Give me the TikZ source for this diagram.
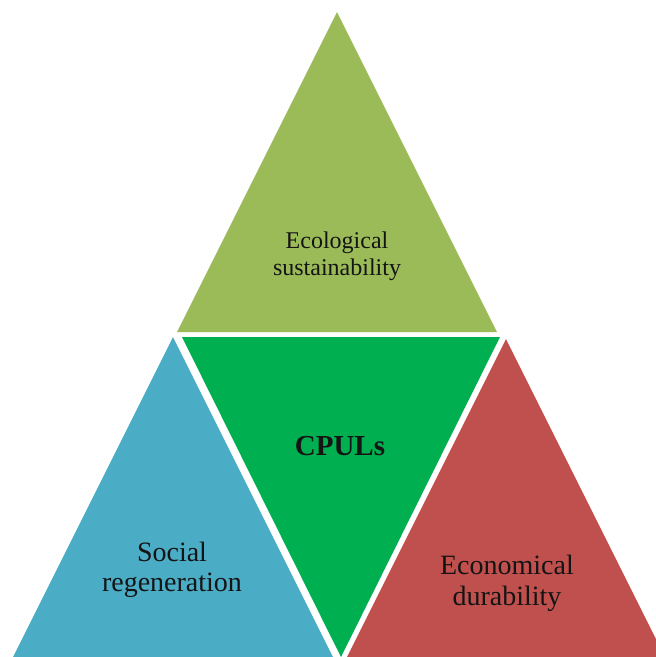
\documentclass[tikz,border=0pt]{standalone}
\usepackage{fontspec}
\setmainfont{Liberation Serif}
\definecolor{olivegreen}{HTML}{9BBB59}
\definecolor{midgreen}{HTML}{00B050}
\definecolor{tealblue}{HTML}{4BACC6}
\definecolor{brickred}{HTML}{C0504D}
\definecolor{txt}{HTML}{141414}
\tikzset{
  lbl/.style={inner sep=0pt, align=center, text=txt},
}
\begin{document}
\begin{tikzpicture}[x=1pt,y=-1pt]
\useasboundingbox (0,0) rectangle (656,657);
\clip (0,0) rectangle (656,657);
% triangles
\fill[olivegreen] (337,12) -- (177,332) -- (497,332) -- cycle;
\fill[midgreen] (182,337) -- (500,337) -- (341,657) -- cycle;
\fill[tealblue] (173,337) -- (13,657) -- (333,657) -- cycle;
\fill[brickred] (506,339) -- (347,657) -- (665,657) -- cycle;
% labels
\node[lbl, font=\fontsize{24}{27}\selectfont] (eco) at (337,256) {Ecological\\sustainability};
\node[lbl, font=\fontsize{29}{32}\selectfont\bfseries] (cpul) at (340,446) {CPULs};
\node[lbl, font=\fontsize{28}{30}\selectfont] (soc) at (172,570) {Social\\regeneration};
\node[lbl, font=\fontsize{28}{31}\selectfont] (econ) at (507,583) {Economical\\durability};
\end{tikzpicture}
\end{document}
